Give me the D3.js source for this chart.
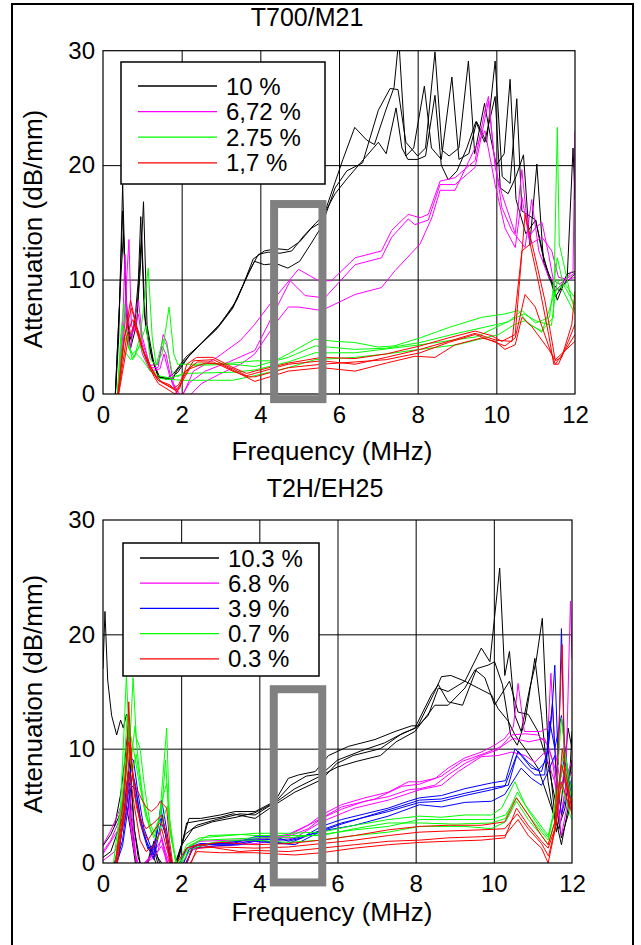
<!DOCTYPE html>
<html>
<head>
<meta charset="utf-8">
<script src="https://cdnjs.cloudflare.com/ajax/libs/d3/7.8.5/d3.min.js"></script>
<style>
  body { margin: 0; background: #fff; }
  svg { display: block; font-family: "Liberation Sans", Arial, sans-serif; }
</style>
</head>
<body>
<svg id="chart" width="641" height="945"></svg>
<script>
// axis ticks shared by both panels
const freqTicks = [0, 2, 4, 6, 8, 10, 12];
const attTicks = [0, 10, 20, 30];

// ---------- T700/M21 : each curve is a list of [MHz, dB/mm] ----------
const t700Labels = ['10 %', '6,72 %', '2.75 %', '1,7 %'];
const t700Colors = ['#000000', '#ff00ff', '#00ff00', '#ff0000'];

const t700Black = [
  [[0.3,-1],[0.4,5],[0.5,18.3],[0.58,8],[0.68,4.7],[0.8,6],[0.9,10],[0.96,15.5],[1.05,7],[1.2,3.8],[1.4,1.5],[1.6,1.4],[1.78,1.3],[1.87,2.0],[2.1,3.0],[2.5,4.4],[2.9,5.8],[3.3,7.6],[3.57,9.6],[3.82,11.8],[4.1,12.5],[4.4,12.7],[4.7,12.6],[5.0,13.3],[5.3,14.5],[5.55,15.0],[5.9,18.5],[6.1,20.5],[6.4,23.3],[6.7,22.2],[6.9,21.8],[7.2,24.9],[7.4,26.8],[7.52,31],[7.7,20.8],[7.9,21.5],[8.17,26.9],[8.35,21.5],[8.6,20.5],[8.87,27.7],[9.05,20.5],[9.3,21],[9.5,23.8],[9.75,22],[9.97,29.1],[10.15,19],[10.35,18.4],[10.52,25.8],[10.65,16],[11.0,15.2],[11.2,12],[11.5,8.5],[11.8,10],[11.95,21.5],[12,17]],
  [[0.3,-1],[0.42,8],[0.5,16],[0.6,7],[0.7,4],[0.85,6],[0.95,11],[1.03,16.8],[1.12,6],[1.3,2.5],[1.41,1.5],[1.6,1.3],[1.8,1.8],[2.1,3.2],[2.5,4.4],[2.9,5.7],[3.3,7.5],[3.6,9.8],[3.85,11.6],[4.1,11.3],[4.4,11.4],[4.7,11.0],[5.0,11.6],[5.3,13.2],[5.55,14.6],[5.9,18],[6.2,19.5],[6.6,20.2],[7.0,24.8],[7.3,26.7],[7.5,26.6],[7.7,22],[8.0,20.8],[8.2,21.5],[8.44,29.9],[8.62,21.3],[8.8,20.8],[9.05,21.5],[9.29,29.1],[9.45,21],[9.7,25.4],[9.85,22.5],[10.0,20],[10.2,21],[10.35,27.5],[10.5,17],[10.75,14],[11.0,15.2],[11.15,12.6],[11.35,10],[11.6,9],[11.8,10.5],[12,10.7]],
  [[0.3,-1],[0.45,10],[0.52,14],[0.62,6],[0.72,4.8],[0.88,8],[0.98,14],[1.08,6],[1.25,3],[1.45,1.4],[1.7,1.3],[1.9,1.9],[2.2,3.4],[2.6,4.8],[3.0,6.2],[3.4,8.2],[3.7,10.6],[3.95,12.2],[4.2,12.4],[4.5,12.3],[4.8,12.5],[5.1,13.8],[5.4,14.9],[5.6,15.6],[5.9,17.5],[6.2,18.8],[6.5,20],[7.0,22],[7.2,21],[7.45,25],[7.6,21.5],[7.75,20.5],[8.0,20.5],[8.2,20.8],[8.44,26.1],[8.6,20],[8.78,18.7],[9.0,19.5],[9.25,21.5],[9.48,23.8],[9.7,22],[9.97,26],[10.1,18],[10.3,17.5],[10.5,19],[10.69,20.9],[10.85,13],[11.03,20.1],[11.2,11.5],[11.4,10],[11.55,8.2],[11.7,9.5],[12,10.5]]
];

const t700Magenta = [
  [[0.35,-1],[0.5,6],[0.56,12.2],[0.62,5],[0.7,4],[0.8,6.7],[0.9,8.2],[1.0,5],[1.2,2.3],[1.4,2.3],[1.53,5.2],[1.62,4.5],[1.79,0.9],[2.0,-0.3],[2.3,2.0],[2.9,3.2],[3.5,4.7],[3.86,6.1],[4.37,8.4],[4.97,10.9],[5.48,9.9],[5.81,9.9],[6.41,11.9],[7.08,12.5],[7.34,14.3],[7.76,15.7],[8.06,15.4],[8.27,15.7],[8.57,18.6],[8.95,18.9],[9.46,20.4],[9.71,24.8],[9.8,26],[9.97,19.8],[10.14,17.5],[10.48,14],[10.65,19.6],[10.82,13.7],[10.99,14.5],[11.16,15],[11.33,12.2],[11.5,9],[11.66,9.6],[11.95,10.8],[12,23]],
  [[0.35,-1],[0.55,7],[0.66,13.5],[0.72,6],[0.8,5.5],[0.9,7],[1.0,4.5],[1.2,2.5],[1.4,2.6],[1.5,4.2],[1.6,3.5],[1.75,1.0],[1.95,-0.5],[2.2,1.0],[2.6,2.0],[3.2,2.8],[3.86,3.8],[4.29,6.7],[4.76,9.9],[5.14,8.6],[5.64,8.4],[6.41,11.3],[7.08,11.9],[7.34,13.7],[7.76,15.3],[7.93,14.8],[8.27,15.2],[8.57,18.3],[8.95,18.3],[9.46,19.8],[9.63,22.7],[9.8,25.6],[9.93,21.3],[10.14,16.3],[10.39,14.3],[10.73,12.8],[10.9,17],[11.08,12.5],[11.33,10.2],[11.6,9.6],[12,10.6]],
  [[0.35,-1],[0.5,4],[0.6,8],[0.7,5],[0.85,6],[1.0,3.5],[1.2,2.0],[1.45,2.2],[1.55,3.5],[1.7,1.5],[1.9,0],[2.1,-0.5],[2.5,0.9],[3.0,1.8],[3.5,2.6],[3.86,3.5],[4.37,6.1],[4.71,7.6],[4.97,7.6],[5.56,7.3],[6.41,8.7],[7.08,9.3],[7.43,10.8],[8.06,13.1],[8.36,15.4],[8.57,17.8],[8.95,17.8],[9.46,21.5],[9.71,23],[9.97,18.3],[10.22,14.5],[10.48,12.8],[10.65,17.2],[10.86,13.1],[11.16,13.7],[11.41,12.5],[11.58,10.2],[11.83,10],[12,10.2]]
];

const t700Green = [
  [[0.35,-1],[0.45,5],[0.53,7.9],[0.65,4],[0.8,3.2],[0.95,5.2],[1.05,8],[1.15,11],[1.25,5],[1.35,2.5],[1.5,3.5],[1.68,7.6],[1.8,3.5],[1.9,2.6],[2.3,2.6],[3.3,2.7],[3.86,2.9],[4.37,2.9],[4.71,3.5],[5.39,4.8],[5.9,4.6],[6.4,4.5],[7.0,4.1],[7.4,4.2],[8.06,4.9],[8.78,5.8],[9.63,6.7],[10.22,7.0],[10.56,7.3],[10.82,6.1],[11.16,5.5],[11.45,6.7],[11.55,23.3],[11.6,13.1],[11.75,10.8],[11.9,8.4],[12,7.3]],
  [[0.35,-1],[0.5,6],[0.6,5],[0.75,3.0],[0.9,4],[1.0,5],[1.1,6],[1.2,3],[1.35,2.5],[1.53,4.8],[1.62,4.2],[1.75,2],[1.9,1.5],[2.3,2.5],[3.3,2.6],[3.86,2.4],[4.71,3.2],[5.39,4.2],[6.4,3.9],[7.2,4.0],[8.06,4.5],[9.0,5.3],[10.3,6.3],[10.65,7.3],[11.0,6.2],[11.35,6.7],[11.55,11.9],[11.7,9.6],[12,7.8]],
  [[0.35,-1],[0.5,4],[0.7,3],[0.85,3.5],[1.0,3],[1.2,2],[1.4,1.4],[1.6,1.3],[2.0,1.2],[3.3,1.2],[3.86,1.6],[4.71,2.3],[5.39,3.0],[6.4,3.2],[7.2,3.5],[8.06,3.9],[9.0,4.3],[10.06,5.2],[10.48,6.1],[10.73,6.4],[11.16,5.4],[11.5,9.0],[11.75,9.6],[12,8.4]],
  [[0.35,-1],[0.55,5],[0.75,3.5],[0.95,4.2],[1.15,2.5],[1.4,1.6],[1.7,1.4],[2.1,1.8],[3.3,1.9],[3.86,2.1],[4.71,2.8],[5.39,3.6],[6.4,3.6],[8.06,4.3],[9.5,5.0],[10.4,6.5],[10.7,7.0],[11.0,6.4],[11.4,6.0],[11.55,10],[12,7]]
];

const t700Red = [
  [[0.35,-1],[0.5,4],[0.6,6],[0.7,8.2],[0.78,7],[0.9,5],[1.1,3],[1.3,1.5],[1.41,0.9],[1.6,0.5],[1.83,0],[1.95,0.5],[2.13,2.6],[2.38,3.2],[2.8,3.2],[3.31,2.3],[3.65,1.8],[3.86,2.0],[4.71,2.7],[5.56,3.2],[6.41,3.1],[7.2,3.5],[8.06,4.2],[8.78,4.9],[9.46,5.5],[9.88,5.1],[10.14,4.6],[10.48,5.2],[10.73,15.7],[10.99,11.9],[11.24,8.1],[11.5,2.9],[11.66,3.2],[11.92,6.1],[12,9]],
  [[0.35,-1],[0.55,5],[0.72,7.5],[0.85,6],[1.0,4],[1.2,2.5],[1.4,1.2],[1.7,0.8],[1.88,0.2],[2.05,1.5],[2.3,2.9],[2.8,3.0],[3.3,2.2],[3.65,1.6],[3.86,1.8],[4.71,2.6],[5.56,2.9],[6.41,2.6],[7.2,3.2],[8.06,3.9],[8.78,4.6],[9.46,5.3],[10.0,4.7],[10.4,4.6],[10.65,12.5],[10.86,13.1],[11.08,9.6],[11.33,5.2],[11.46,2.6],[11.58,2.6],[11.83,4.6],[12,6.1]],
  [[0.35,-1],[0.6,5],[0.75,6.5],[0.9,5.5],[1.05,3.5],[1.3,1.8],[1.5,1.0],[1.8,0.5],[1.92,0.8],[2.1,2.0],[2.4,2.8],[2.8,2.8],[3.3,2.0],[3.7,1.5],[3.86,1.5],[4.71,2.3],[5.56,2.6],[6.41,2.8],[7.2,3.0],[8.06,3.6],[8.78,4.5],[9.46,5.2],[10.22,4.2],[10.48,4.9],[10.73,8.7],[10.99,7.6],[11.33,4.2],[11.5,2.6],[11.75,3.8],[12,5.2]],
  [[0.35,-1],[0.65,5],[0.8,6],[0.95,4.5],[1.2,2.2],[1.4,1.2],[1.7,0.6],[1.85,0.3],[2.0,1.0],[2.2,2.2],[2.6,2.7],[3.0,2.6],[3.4,1.9],[3.86,1.1],[4.71,2.0],[5.56,2.3],[6.41,2.0],[7.2,2.7],[7.93,3.3],[8.44,3.2],[8.95,4.3],[9.63,4.9],[9.97,4.6],[10.22,3.9],[10.48,4.3],[10.65,6.7],[10.9,5.9],[11.33,3.9],[11.5,3.0],[11.75,3.8],[12,4.6]]
];

// ---------- T2H/EH25 ----------
const t2hLabels = ['10.3 %', '6.8 %', '3.9 %', '0.7 %', '0.3 %'];
const t2hColors = ['#000000', '#ff00ff', '#0000ff', '#00ff00', '#ff0000'];

const t2hBlack = [
  [[0,17],[0.05,22],[0.12,16],[0.22,12.9],[0.35,11.2],[0.45,12.5],[0.52,11.8],[0.6,13],[0.65,12.7],[0.72,7],[0.8,3],[0.9,0.5],[1.0,-0.5],[1.2,0.5],[1.3,1.9],[1.4,0.5],[1.6,-0.5],[1.8,-0.5],[2.0,1.5],[2.2,3.9],[2.5,3.9],[3.0,4.2],[3.38,4.5],[3.89,4.5],[4.4,5.4],[4.74,7.4],[5.0,7.7],[5.43,8.0],[5.77,9.4],[6.28,10.2],[6.96,10.8],[7.47,11.5],[7.9,12.0],[8.06,12.0],[8.49,15.0],[8.66,16.3],[8.9,16.4],[9.26,15.9],[9.68,18.8],[9.9,17.6],[10.15,25.8],[10.28,16.4],[10.4,18.5],[10.54,12.9],[10.7,11.5],[10.92,15.3],[11.08,17.6],[11.24,21.4],[11.39,10.0],[11.56,4.2],[11.73,1.6],[11.9,4.8],[12,11.5]],
  [[0,3.3],[0.3,3.3],[0.45,6],[0.56,9],[0.65,12],[0.7,8],[0.8,3],[0.95,0],[1.1,-0.5],[1.25,1.5],[1.35,1.0],[1.5,-0.5],[1.8,-0.5],[1.95,0.5],[2.14,3.5],[2.48,3.7],[3.0,4.0],[3.33,4.3],[3.89,3.9],[4.4,5.1],[4.91,6.2],[5.6,7.3],[5.98,8.7],[6.4,9.4],[7.1,10.0],[7.6,11.2],[7.98,11.8],[8.4,14.7],[8.58,15.6],[8.83,14.1],[9.2,13.8],[9.56,17.0],[9.85,17.3],[10.02,17.6],[10.22,15.6],[10.43,11.2],[10.6,10.3],[10.8,12.4],[11.05,17.9],[11.22,12.9],[11.39,7.1],[11.6,2.7],[11.73,5.4],[11.9,11.8],[12,10]],
  [[0,1.5],[0.2,2.5],[0.4,4],[0.56,5.7],[0.65,8],[0.72,4],[0.85,0],[1.0,-0.5],[1.2,0.5],[1.3,1.3],[1.4,0],[1.7,-0.5],[1.9,0.3],[2.1,2.5],[2.4,3.3],[2.9,3.8],[3.5,4.3],[3.89,4.2],[4.5,5.5],[4.91,6.5],[5.5,7.5],[6.0,8.4],[6.5,8.9],[7.1,9.4],[7.5,10.6],[7.98,11.5],[8.49,13.8],[8.83,13.8],[9.26,15.3],[9.52,16.9],[9.77,16.2],[10.02,13.8],[10.4,15.9],[10.62,13.2],[10.88,13.0],[11.13,11.5],[11.39,8.6],[11.56,5.7],[11.73,2.2],[11.9,4.2],[12,6.5]],
  [[0,0.5],[0.2,1],[0.4,3],[0.6,5],[0.7,3],[0.85,-0.5],[1.1,-0.5],[1.25,1],[1.4,-0.5],[1.85,-0.5],[2.0,1.5],[2.3,3.0],[2.8,3.6],[3.4,4.0],[3.89,4.4],[4.4,5.3],[4.8,6.8],[5.2,7.6],[5.6,7.8],[6.0,9.0],[6.6,9.8],[7.2,10.5],[7.7,11.4],[8.0,11.8],[8.32,12.9],[8.58,15.3],[8.83,15.0],[9.26,15.9],[9.6,15.3],[9.94,14.7],[10.11,13.5],[10.37,12.4],[10.54,11.2],[10.8,10],[11.13,8.3],[11.39,5.7],[11.65,3.0],[11.82,4.8],[12,9]]
];

const t2hMagenta = [
  [[0,1.6],[0.18,2.7],[0.35,4],[0.56,5.9],[0.65,7.7],[0.75,4],[0.86,0],[1.0,-0.5],[1.2,0.5],[1.46,2.7],[1.6,1.0],[1.75,-0.5],[2.0,0],[2.14,1.3],[2.48,1.9],[3.33,2.0],[3.89,2.0],[4.74,2.4],[5.25,3.3],[5.59,4.2],[6.1,5.1],[6.7,5.7],[7.3,6.2],[7.81,7.1],[8.1,7.1],[8.5,7.4],[8.83,8.3],[9.26,9.2],[9.68,9.7],[10.02,10.3],[10.28,10.9],[10.5,11.9],[10.62,15.7],[10.78,11.5],[11.2,11.5],[11.39,11.8],[11.46,16.6],[11.56,10],[11.73,6.5],[11.86,9.5],[11.96,22.9],[12,17.9]],
  [[0,1.0],[0.2,2],[0.45,4],[0.6,6.5],[0.68,5],[0.8,1],[0.95,-0.5],[1.3,1.0],[1.5,2.0],[1.7,-0.5],[2.0,-0.5],[2.2,1.0],[2.6,1.6],[3.33,1.8],[3.89,1.9],[4.74,2.3],[5.25,3.0],[5.59,3.9],[6.1,4.7],[6.7,5.4],[7.3,5.8],[7.81,6.4],[8.1,6.5],[8.49,6.8],[8.83,7.7],[9.26,8.7],[9.68,9.4],[10.11,9.9],[10.45,11.2],[10.8,11.3],[11.13,11.2],[11.39,10.3],[11.56,8.3],[11.73,4.2],[11.9,8.0],[12,9]],
  [[0,0.2],[0.3,1],[0.5,3],[0.65,5],[0.75,2],[0.9,-0.5],[1.3,0.5],[1.5,1.5],[1.7,-0.5],[2.05,-0.5],[2.3,1.2],[2.9,1.5],[3.5,1.6],[3.89,1.7],[4.91,2.2],[5.59,3.6],[6.44,4.8],[7.3,5.5],[8.1,6.4],[8.66,6.8],[9.09,8.0],[9.68,9.3],[10.11,9.4],[10.45,9.7],[10.8,9.4],[11.05,8.8],[11.3,9.7],[11.56,7.1],[11.73,2.4],[11.9,5.5],[12,7.5]],
  [[0,0.8],[0.5,3.5],[0.62,6],[0.72,3],[0.88,-0.5],[1.4,1.0],[1.5,2.3],[1.65,-0.5],[2.1,-0.5],[2.3,1.5],[3.0,1.8],[3.89,2.1],[4.74,2.5],[5.42,3.6],[6.1,4.9],[6.96,5.6],[7.64,6.7],[8.1,6.9],[8.66,7.6],[9.2,8.9],[9.77,9.6],[10.2,10.2],[10.5,10.9],[10.9,10.6],[11.3,10.9],[11.5,9],[11.7,3.5],[11.85,7],[12,8]]
];

const t2hBlue = [
  [[0.2,-0.5],[0.4,0.5],[0.55,5],[0.7,9.2],[0.78,9.0],[0.9,6],[1.05,3],[1.2,1.6],[1.29,0.7],[1.4,3],[1.5,5.5],[1.6,3.5],[1.76,0],[1.9,-0.5],[2.14,1.3],[2.48,1.7],[3.33,1.7],[3.89,2.3],[4.4,2.3],[4.74,1.9],[5.08,2.2],[5.59,3.2],[6.1,3.8],[6.7,4.3],[7.3,4.8],[7.81,5.4],[8.1,5.7],[8.66,5.9],[9.26,6.5],[9.94,7.0],[10.3,7.2],[10.54,10.0],[10.7,9.4],[10.96,8.3],[11.22,8.0],[11.39,10],[11.48,12.9],[11.56,17.3],[11.65,8.6],[11.73,20.5],[11.82,7.1],[12,5.5]],
  [[0.25,-0.5],[0.45,2],[0.6,6],[0.72,8.3],[0.82,7],[0.95,4],[1.1,2],[1.24,1.0],[1.35,2],[1.48,4.8],[1.58,3],[1.75,-0.5],[2.0,-0.5],[2.2,1.2],[2.5,1.6],[3.3,1.6],[3.89,2.0],[4.74,1.7],[5.59,2.9],[6.1,3.5],[6.7,4.0],[7.3,4.5],[8.1,5.3],[8.66,5.4],[9.26,5.9],[9.94,6.4],[10.28,6.7],[10.58,9.4],[10.8,8.5],[11.05,7.7],[11.3,7.7],[11.43,12.4],[11.56,10],[11.73,12.9],[11.9,7.7],[12,5.7]],
  [[0.3,-0.5],[0.5,1.5],[0.65,5],[0.76,7.8],[0.86,6],[1.0,3],[1.2,1.0],[1.3,0.3],[1.45,3],[1.52,4.2],[1.62,2],[1.8,-0.5],[2.05,-0.5],[2.3,1.3],[2.9,1.5],[3.5,1.6],[3.89,1.9],[4.91,1.6],[5.59,2.8],[6.44,3.3],[7.3,4.1],[8.1,5.1],[8.66,4.9],[9.26,5.3],[9.94,5.4],[10.28,6.0],[10.7,8.3],[10.96,7.4],[11.22,6.8],[11.39,8.0],[11.56,9.4],[11.73,4.2],[11.9,6.5],[12,5.2]],
  [[0.3,-0.5],[0.5,2],[0.68,7],[0.8,6.5],[0.95,3.5],[1.15,1.2],[1.3,1.5],[1.45,4],[1.6,2.5],[1.78,-0.5],[2.1,-0.5],[2.3,1.5],[3.0,1.7],[3.89,2.1],[4.74,2.0],[5.42,2.6],[6.1,3.4],[6.96,4.3],[7.64,5.0],[8.1,5.5],[8.66,5.6],[9.26,6.1],[9.94,6.6],[10.37,6.8],[10.62,9.8],[10.88,8.8],[11.13,8.1],[11.35,9],[11.5,14],[11.62,6],[11.8,9],[12,6.5]]
];

const t2hGreen = [
  [[0.25,-0.5],[0.45,5],[0.6,16.4],[0.68,10],[0.77,16.2],[0.85,11],[0.95,10],[1.05,7],[1.2,3.5],[1.3,2.7],[1.45,4],[1.63,11.8],[1.7,4],[1.88,-0.5],[2.14,1.6],[2.48,2.2],[3.2,2.4],[3.89,2.6],[4.74,2.6],[5.59,2.7],[6.44,3.3],[7.3,3.8],[8.1,4.1],[8.66,4.0],[9.26,4.2],[9.94,4.2],[10.2,4.8],[10.54,7.1],[10.8,5.1],[11.13,3.6],[11.39,2.4],[11.56,4.8],[11.73,12.7],[11.9,7.1],[12,5.4]],
  [[0.3,-0.5],[0.5,6],[0.62,13],[0.72,9],[0.82,12],[0.9,9],[1.05,5],[1.25,2.5],[1.4,3],[1.55,6],[1.63,7],[1.72,3],[1.9,-0.5],[2.2,1.4],[2.5,2.0],[3.3,2.1],[3.89,2.2],[4.74,2.2],[5.59,2.5],[6.44,2.9],[7.3,3.2],[8.1,3.8],[9.26,3.8],[9.94,3.8],[10.3,4.2],[10.58,5.7],[10.88,4.2],[11.22,2.7],[11.39,2.0],[11.56,4.8],[11.78,8.6],[12,4.8]],
  [[0.3,-0.5],[0.5,4],[0.65,10],[0.75,8],[0.85,9.5],[1.0,6],[1.2,3],[1.4,2],[1.55,4],[1.65,5],[1.75,2],[1.92,-0.5],[2.25,1.2],[2.8,1.8],[3.5,2.0],[3.89,2.0],[4.74,1.8],[5.59,2.0],[6.44,2.4],[7.3,2.7],[8.1,3.2],[9.26,3.2],[9.94,3.0],[10.3,3.6],[10.58,5.4],[10.88,3.8],[11.22,2.4],[11.39,1.6],[11.56,3.6],[11.73,6.9],[11.95,4.2],[12,3.8]],
  [[0.3,-0.5],[0.55,7],[0.65,12],[0.78,10],[0.9,7.5],[1.1,4],[1.3,2.2],[1.5,4.5],[1.6,9],[1.7,3],[1.9,-0.5],[2.2,1.5],[2.7,2.4],[3.5,2.5],[3.89,2.4],[4.74,2.4],[5.59,2.4],[6.44,3.0],[7.3,3.5],[8.1,3.5],[9.0,3.4],[9.94,3.5],[10.3,3.9],[10.6,6.2],[10.9,4.5],[11.2,3.0],[11.4,2.2],[11.6,5.5],[11.8,10],[12,6]]
];

const t2hRed = [
  [[0.3,-0.5],[0.5,5],[0.62,10],[0.66,14.1],[0.72,9],[0.8,7],[0.86,6.5],[1.0,5.5],[1.12,4.8],[1.24,4.5],[1.4,5],[1.46,5.4],[1.63,4.8],[1.7,2],[1.8,-0.5],[2.14,1.3],[2.48,1.6],[2.91,1.3],[3.5,1.0],[3.89,1.1],[4.74,1.0],[5.59,1.3],[6.44,1.6],[7.3,1.9],[8.1,2.0],[8.83,2.2],[9.68,2.3],[10.28,2.4],[10.62,3.8],[10.88,2.4],[11.22,1.3],[11.39,0],[11.56,2.8],[11.75,19.1],[11.82,7.1],[12,4.2]],
  [[0.3,-0.5],[0.5,4],[0.65,10.6],[0.72,9],[0.85,5],[1.0,3],[1.15,2],[1.3,2.8],[1.45,3.5],[1.6,3],[1.72,-0.5],[2.1,-0.5],[2.3,1.5],[3.0,1.8],[3.89,1.6],[4.74,1.7],[5.59,2.0],[6.44,2.4],[7.3,2.9],[8.1,3.2],[8.83,3.3],[9.68,3.3],[10.28,3.6],[10.58,5.7],[10.88,4.2],[11.22,2.4],[11.39,1.6],[11.56,3.6],[11.73,8.6],[11.95,5.7],[12,5]],
  [[0.3,-0.5],[0.55,4],[0.68,8],[0.8,5],[0.95,2],[1.1,1],[1.3,1.5],[1.5,3],[1.65,1],[1.8,-0.5],[2.15,-0.5],[2.4,1.0],[3.0,0.9],[3.89,0.9],[4.91,0.7],[5.59,0.9],[6.44,1.3],[7.3,1.6],[8.1,1.8],[8.83,1.9],[9.68,2.0],[10.28,2.2],[10.58,4.8],[10.88,3.3],[11.22,1.9],[11.39,1.3],[11.56,3.0],[11.73,7.1],[11.95,4.8],[12,4.5]],
  [[0.35,-0.5],[0.6,6],[0.7,11],[0.8,6],[0.95,4],[1.1,3],[1.3,3.5],[1.5,4.2],[1.65,2],[1.78,-0.5],[2.2,-0.5],[2.4,1.3],[3.0,1.4],[3.89,1.3],[4.74,1.4],[5.59,1.7],[6.44,2.0],[7.3,2.4],[8.1,2.7],[8.83,2.8],[9.68,2.9],[10.28,3.0],[10.6,4.3],[10.88,3.0],[11.22,1.7],[11.4,0.6],[11.6,3.5],[11.75,10],[12,4.5]]
];

// grey "region of interest" frames, in data units [f0, f1, v0, v1]
const t700Window = [4.35, 5.58, -0.45, 16.6];
const t2hWindow = [4.37, 5.61, -1.7, 15.2];

const svg = d3.select('#chart');

// outer frame of the figure
svg.append('rect')
  .attr('x', 12).attr('y', 4)
  .attr('width', 621).attr('height', 960)
  .attr('fill', 'none').attr('stroke', '#000').attr('stroke-width', 2);

function drawPanel(cfg) {
  const g = svg.append('g');
  const x = d3.scaleLinear().domain([0, 12]).range([cfg.left, cfg.right]);
  const y = d3.scaleLinear().domain([0, 30]).range([cfg.bottom, cfg.top]);
  const h = cfg.bottom - cfg.top;
  const w = cfg.right - cfg.left;

  // grid lines
  g.append('g')
    .attr('transform', `translate(0,${cfg.bottom})`)
    .call(d3.axisBottom(x).tickValues([2, 4, 6, 8, 10]).tickSize(-h).tickFormat(''))
    .call(a => a.select('.domain').remove())
    .call(a => a.selectAll('line').attr('stroke', '#000').attr('stroke-width', 1));
  g.append('g')
    .attr('transform', `translate(${cfg.left},0)`)
    .call(d3.axisLeft(y).tickValues([10, 20]).tickSize(-w).tickFormat(''))
    .call(a => a.select('.domain').remove())
    .call(a => a.selectAll('line').attr('stroke', '#000').attr('stroke-width', 1));

  // curves, clipped to the plot box
  g.append('clipPath').attr('id', cfg.id + '-clip')
    .append('rect').attr('x', cfg.left).attr('y', cfg.top).attr('width', w).attr('height', h);

  const line = d3.line().x(d => x(d[0])).y(d => y(d[1]));
  const curves = g.append('g').attr('clip-path', `url(#${cfg.id}-clip)`);
  cfg.series.forEach((group, i) => {
    curves.append('g')
      .selectAll('path')
      .data(group)
      .join('path')
      .attr('d', line)
      .attr('fill', 'none')
      .attr('stroke', cfg.colors[i])
      .attr('stroke-width', 1)
      .attr('stroke-linejoin', 'round');
  });

  // plot box
  g.append('rect')
    .attr('x', cfg.left).attr('y', cfg.top).attr('width', w).attr('height', h)
    .attr('fill', 'none').attr('stroke', '#000').attr('stroke-width', 1.2);

  // grey window
  const win = cfg.window;
  g.append('rect')
    .attr('x', x(win[0])).attr('y', y(win[3]))
    .attr('width', x(win[1]) - x(win[0])).attr('height', y(win[2]) - y(win[3]))
    .attr('fill', 'none').attr('stroke', '#808080').attr('stroke-width', 8);

  // tick labels
  g.append('g')
    .attr('transform', `translate(0,${cfg.bottom})`)
    .call(d3.axisBottom(x).tickValues(freqTicks).tickSize(0).tickPadding(12))
    .call(a => a.select('.domain').remove())
    .call(a => a.selectAll('text').attr('font-size', 24).attr('fill', '#000')
      .attr('font-family', '"Liberation Sans", Arial, sans-serif'));
  g.append('g')
    .attr('transform', `translate(${cfg.left},0)`)
    .call(d3.axisLeft(y).tickValues(attTicks).tickSize(0).tickPadding(8))
    .call(a => a.select('.domain').remove())
    .call(a => a.selectAll('text').attr('font-size', 24).attr('fill', '#000')
      .attr('font-family', '"Liberation Sans", Arial, sans-serif'));

  // titles
  g.append('text')
    .attr('x', cfg.titleX).attr('y', cfg.titleY)
    .attr('text-anchor', 'middle').attr('font-size', 25)
    .text(cfg.title);
  g.append('text')
    .attr('x', 332).attr('y', cfg.xLabelY)
    .attr('text-anchor', 'middle').attr('font-size', 26)
    .text('Frequency (MHz)');
  g.append('text')
    .attr('transform', `translate(42,${cfg.yLabelY}) rotate(-90)`)
    .attr('text-anchor', 'middle').attr('font-size', 26)
    .text('Attenuation (dB/mm)');

  // legend
  const lg = cfg.legend;
  g.append('rect')
    .attr('x', lg.x).attr('y', lg.y).attr('width', lg.w).attr('height', lg.h)
    .attr('fill', '#fff').attr('stroke', '#000').attr('stroke-width', 1.5);
  const rows = g.append('g').selectAll('g')
    .data(cfg.labels)
    .join('g')
    .attr('transform', (d, i) => `translate(0,${lg.firstRow + i * lg.step})`);
  rows.append('line')
    .attr('x1', lg.x + 17).attr('x2', lg.x + 96)
    .attr('stroke', (d, i) => cfg.colors[i]).attr('stroke-width', 1.3);
  rows.append('text')
    .attr('x', lg.x + 105).attr('y', 8.5)
    .attr('font-size', 24)
    .text(d => d);
}

drawPanel({
  id: 't700', title: 'T700/M21', titleX: 307, titleY: 26,
  left: 103, right: 575, top: 50.7, bottom: 394,
  xLabelY: 460, yLabelY: 229,
  series: t700Series(), colors: t700Colors, labels: t700Labels,
  window: t700Window,
  legend: { x: 121, y: 62, w: 204, h: 122, firstRow: 86, step: 25.6 }
});

drawPanel({
  id: 't2h', title: 'T2H/EH25', titleX: 325, titleY: 497,
  left: 103, right: 572, top: 520, bottom: 863,
  xLabelY: 921, yLabelY: 694,
  series: t2hSeries(), colors: t2hColors, labels: t2hLabels,
  window: t2hWindow,
  legend: { x: 123, y: 543, w: 196, h: 133, firstRow: 558, step: 25.2 }
});

function t700Series() { return [t700Black, t700Magenta, t700Green, t700Red]; }
function t2hSeries() { return [t2hBlack, t2hMagenta, t2hBlue, t2hGreen, t2hRed]; }
</script>
</body>
</html>
